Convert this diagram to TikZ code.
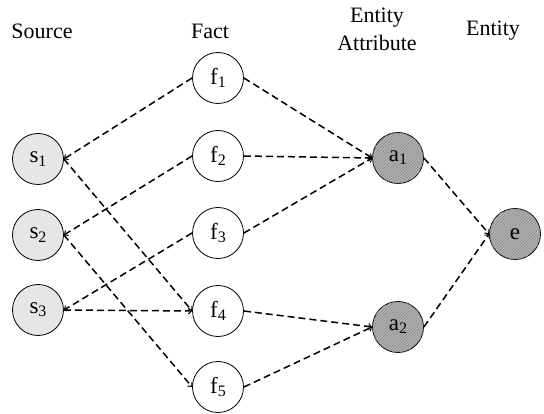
\documentclass[tikz,border=0pt]{standalone}
\usepackage{fontspec}
\setmainfont{Liberation Serif}
\usetikzlibrary{arrows.meta,patterns}
\newcommand{\lowsub}[1]{\raisebox{-0.3ex}{\fontsize{16}{16}\selectfont #1}}
\definecolor{srcfill}{RGB}{230,230,230}
\definecolor{darkfill}{RGB}{178,178,178}
\definecolor{hatch}{RGB}{140,140,140}
\begin{document}
\begin{tikzpicture}[x=1pt,y=1pt,
  every node/.style={font=\fontsize{23}{25}\selectfont},
  nd/.style={circle,draw=black,line width=0.8pt,minimum size=51pt,inner sep=0pt},
  srcnd/.style={nd,fill=srcfill},
  factnd/.style={nd,fill=white},
  darknd/.style={nd,fill=darkfill,postaction={pattern=north east lines,pattern color=hatch}},
  hdr/.style={align=center,font=\fontsize{22}{28}\selectfont},
  edge/.style={draw,line width=1.5pt,dash pattern=on 7pt off 4pt,-{Straight Barb[length=3pt,width=6pt,line width=1pt]}}
]
\useasboundingbox (0,0) rectangle (544,-414);
\node[hdr] (hs) at (42,-31) {Source};
\node[hdr] (hf) at (210,-31) {Fact};
\node[hdr] (ha) at (377,-29) {Entity\\Attribute};
\node[hdr] (he) at (493,-31) {Entity};

\node[srcnd] (s1) at (38,-159) {s\lowsub{1}};
\node[srcnd] (s2) at (38,-235) {s\lowsub{2}};
\node[srcnd] (s3) at (38,-310) {s\lowsub{3}};

\node[factnd] (f1) at (218,-78) {f\lowsub{1}};
\node[factnd] (f2) at (218,-156) {f\lowsub{2}};
\node[factnd] (f3) at (218,-233) {f\lowsub{3}};
\node[factnd] (f4) at (218,-311) {f\lowsub{4}};
\node[factnd] (f5) at (218,-387) {f\lowsub{5}};

\node[darknd] (a1) at (398,-158) {a\lowsub{1}};
\node[darknd] (a2) at (398,-327) {a\lowsub{2}};
\node[darknd] (e) at (515,-234) {e};

\draw[edge] (f1.west) -- (s1.east);
\draw[edge] (s1.east) -- (f4.west);
\draw[edge] (f2.west) -- (s2.east);
\draw[edge] (s2.east) -- (f5.west);
\draw[edge] (f3.west) -- (s3.east);
\draw[edge] (s3.east) -- (f4.west);

\draw[edge] (f1.east) -- (a1.west);
\draw[edge] (f2.east) -- (a1.west);
\draw[edge] (f3.east) -- (a1.west);
\draw[edge] (f4.east) -- (a2.west);
\draw[edge] (f5.east) -- (a2.west);

\draw[edge] (a1.east) -- (e.west);
\draw[edge] (a2.east) -- (e.west);
\end{tikzpicture}
\end{document}
